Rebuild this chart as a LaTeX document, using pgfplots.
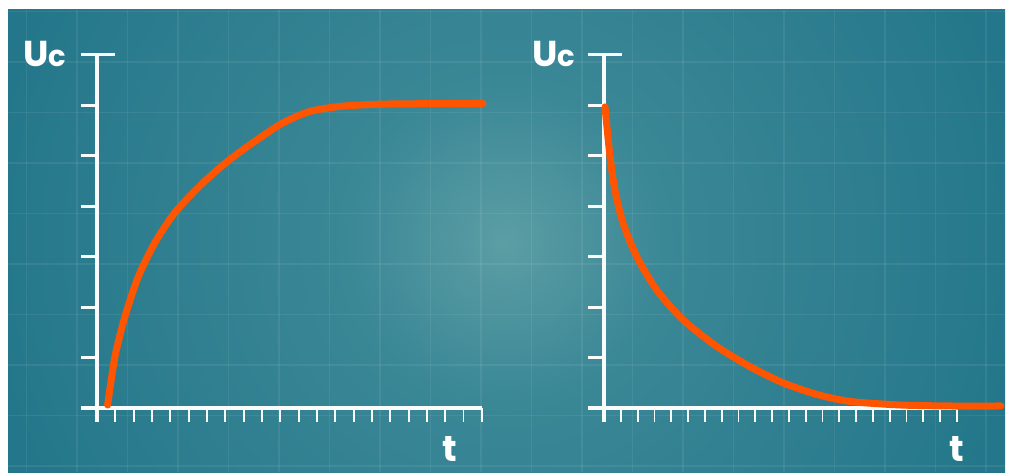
\documentclass[border=0pt]{standalone}
\usepackage{pgfplots}
\pgfplotsset{compat=1.18}
\usepackage{fontspec}
\setmainfont{Poppins}
\definecolor{tealedge}{RGB}{36,119,138}
\definecolor{tealmid}{RGB}{58,135,150}
\definecolor{tealcenter}{RGB}{92,158,164}
\definecolor{curvecol}{RGB}{255,85,0}
\definecolor{axcol}{RGB}{250,252,252}
\pgfdeclareradialshading{bgshade}{\pgfpoint{0bp}{0bp}}{color(0bp)=(tealcenter); color(8bp)=(tealmid); color(26bp)=(tealedge); color(50bp)=(tealedge)}

\pgfplotstableread{
x y
0.58 0.06
0.98 1.02
1.53 1.82
2.25 2.60
3.16 3.28
4.26 3.88
5.71 4.44
7.15 4.90
8.62 5.29
10.08 5.64
11.51 5.87
12.98 5.97
14.44 6.01
16.26 6.03
21.06 6.04
}\charge

\pgfplotstableread{
x y
0.06 5.97
0.36 4.98
0.65 4.32
1.13 3.67
1.95 3.00
3.14 2.34
4.70 1.75
6.71 1.22
8.69 0.82
10.65 0.50
12.66 0.27
14.64 0.13
17.62 0.06
20.60 0.04
23.63 0.04
}\discharge

\begin{document}
\begin{tikzpicture}
\useasboundingbox (0pt,0pt) rectangle (1009pt,472pt);
\begin{scope}[x=1pt,y=1pt]
\fill[white] (0,0) rectangle (1009,472);
\begin{scope}
\clip (8,0) rectangle (1009,462);
\shade[shading=bgshade] (5,-271) rectangle (1005,729);
\foreach \gx in {26.5,77,...,1005} \draw[white,opacity=0.07,line width=1.5pt] (\gx,0) -- (\gx,462);
\foreach \gy in {6,56.5,...,462} \draw[white,opacity=0.07,line width=1.5pt] (8,\gy) -- (1009,\gy);
\end{scope}
\end{scope}

% left chart: charging
\begin{axis}[at={(80.50pt,46.35pt)}, anchor=south west, scale only axis,
  width=405.09pt, height=375.70pt,
  xmin=-0.9, xmax=21.2, ymin=-0.35, ymax=7.1, hide axis, clip=false]
  \draw[axcol, line width=4.5pt] (axis cs:0,-0.28) -- (axis cs:0,7);
  \draw[axcol, line width=4.5pt] ([xshift=-16pt]axis cs:0,0) -- (axis cs:21,0);
  \draw[axcol, line width=3pt] ([xshift=-16pt]axis cs:0,7) -- ([xshift=18pt]axis cs:0,7);
  \pgfplotsinvokeforeach{1,...,6}{\draw[axcol, line width=3pt] ([xshift=-16pt]axis cs:0,#1) -- (axis cs:0,#1);}
  \pgfplotsinvokeforeach{1,...,21}{\draw[axcol, line width=1.8pt] (axis cs:#1,0) -- ([yshift=-14pt]axis cs:#1,0);}
  \addplot[curvecol, line width=7pt, smooth, tension=0.45, line cap=round] table[x=x,y=y] {\charge};
\end{axis}

% right chart: discharging
\begin{axis}[at={(588.88pt,46.35pt)}, anchor=south west, scale only axis,
  width=414.96pt, height=375.70pt,
  xmin=-0.9, xmax=23.8, ymin=-0.35, ymax=7.1, hide axis, clip=false]
  \draw[axcol, line width=4.5pt] (axis cs:0,-0.28) -- (axis cs:0,7);
  \draw[axcol, line width=4.5pt] ([xshift=-16pt]axis cs:0,0) -- (axis cs:21,0);
  \draw[axcol, line width=3pt] ([xshift=-16pt]axis cs:0,7) -- ([xshift=18pt]axis cs:0,7);
  \pgfplotsinvokeforeach{1,...,6}{\draw[axcol, line width=3pt] ([xshift=-16pt]axis cs:0,#1) -- (axis cs:0,#1);}
  \pgfplotsinvokeforeach{1,...,21}{\draw[axcol, line width=1.8pt] (axis cs:#1,0) -- ([yshift=-14pt]axis cs:#1,0);}
  \addplot[curvecol, line width=7pt, smooth, tension=0.45, line cap=round] table[x=x,y=y] {\discharge};
\end{axis}

\begin{scope}[x=1pt,y=1pt]
\node[anchor=base west, text=white, inner sep=0pt, font=\fontsize{36}{36}\selectfont\bfseries] at (23,405) {U{\fontsize{29}{29}\selectfont c}};
\node[anchor=base west, text=white, inner sep=0pt, font=\fontsize{36}{36}\selectfont\bfseries] at (532,405) {U{\fontsize{29}{29}\selectfont c}};
\node[anchor=base west, text=white, inner sep=0pt, font=\fontsize{36}{36}\selectfont\bfseries] at (442,11) {t};
\node[anchor=base west, text=white, inner sep=0pt, font=\fontsize{36}{36}\selectfont\bfseries] at (949,11) {t};
\end{scope}
\end{tikzpicture}
\end{document}
